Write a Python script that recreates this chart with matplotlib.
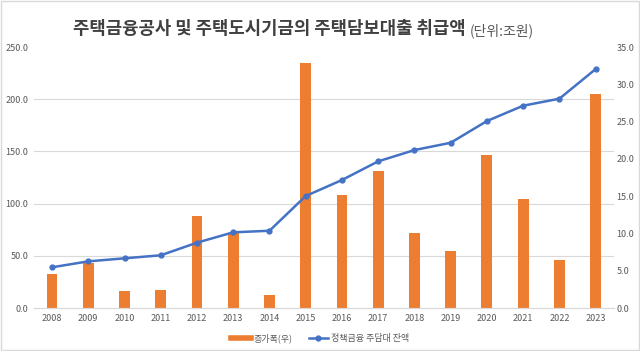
import matplotlib
matplotlib.use("Agg")
import matplotlib.pyplot as plt
from matplotlib.patches import Rectangle
from matplotlib.lines import Line2D
from matplotlib.ticker import FormatStrFormatter

plt.rcParams['font.family'] = ['Noto Sans CJK KR', 'DejaVu Sans']

years = ['2008', '2009', '2010', '2011', '2012', '2013', '2014', '2015',
         '2016', '2017', '2018', '2019', '2020', '2021', '2022', '2023']
increase = [4.5, 6.1, 2.3, 2.45, 12.4, 10.0, 1.8, 32.8,
            15.2, 18.4, 10.1, 7.6, 20.5, 14.6, 6.5, 28.7]
balance = [39.0, 44.7, 47.6, 50.5, 62.6, 72.5, 74.0, 107.3,
           122.6, 140.5, 151.3, 158.3, 179.1, 193.8, 200.5, 228.9]

title_main = '주택금융공사 및 주택도시기금의 주택담보대출 취급액'
title_unit = '(단위:조원)'
label_bar = '증가폭(우)'
label_line = '정책금융 주담대 잔액'

bar_color = '#ED7D31'
line_color = '#4472C4'
text_color = '#595959'
grid_color = '#D9D9D9'

fig = plt.figure(figsize=(6.4, 3.51), dpi=100)
ax = fig.add_axes([0.053, 0.1225, 0.906, 0.7435])  # bars (right scale)
ax2 = ax.twinx()  # line (left scale)

x = list(range(len(years)))
ax.bar(x, increase, width=0.3, color=bar_color, zorder=2)
ax.set_ylim(0, 35)
ax.set_xlim(-0.5, len(years) - 0.5)
ax.yaxis.tick_right()
ax.set_yticks([0, 5, 10, 15, 20, 25, 30, 35])
ax.yaxis.set_major_formatter(FormatStrFormatter('%.1f'))
# gridlines aligned to the left-axis ticks (0..250 step 50 == 0..35 step 7)
ax.set_yticks([0, 7, 14, 21, 28, 35], minor=True)
ax.yaxis.grid(True, which='minor', color=grid_color, linewidth=0.8)
ax.set_axisbelow(True)
ax.tick_params(axis='y', which='both', length=0, labelsize=6.5,
               labelcolor=text_color, pad=2)
ax.set_xticks(x)
ax.set_xticklabels(years)
ax.tick_params(axis='x', length=0, labelsize=6.5, labelcolor=text_color, pad=4)

ax2.plot(x, balance, color=line_color, linewidth=1.8, marker='o',
         markersize=3.5, zorder=3)
ax2.set_ylim(0, 250)
ax2.yaxis.tick_left()
ax2.set_yticks([0, 50, 100, 150, 200, 250])
ax2.yaxis.set_major_formatter(FormatStrFormatter('%.1f'))
ax2.tick_params(axis='y', length=0, labelsize=6.5, labelcolor=text_color, pad=4)

for a in (ax, ax2):
    for s in ('top', 'left', 'right'):
        a.spines[s].set_visible(False)
    a.spines['bottom'].set_color(grid_color)

fig.text(0.114, 0.918, title_main, fontsize=12.8, fontweight='bold',
         color='#404040', ha='left', va='center')
fig.text(0.734, 0.912, title_unit, fontsize=10, color=text_color,
         ha='left', va='center')

handles = [Line2D([0], [0], color=bar_color, linewidth=4),
           Line2D([0], [0], color=line_color, linewidth=1.8, marker='o',
                  markersize=3.5)]
fig.legend(handles, [label_bar, label_line], loc='center',
           bbox_to_anchor=(0.5, 0.037), ncol=2, frameon=False,
           fontsize=6.5, labelcolor=text_color, handlelength=2.2,
           columnspacing=1.8, handletextpad=0.3)

fig.patches.append(Rectangle((0.002, 0.003), 0.996, 0.994, transform=fig.transFigure,
                             fill=False, edgecolor=grid_color, linewidth=1))

fig.savefig('out.png', dpi=100)
